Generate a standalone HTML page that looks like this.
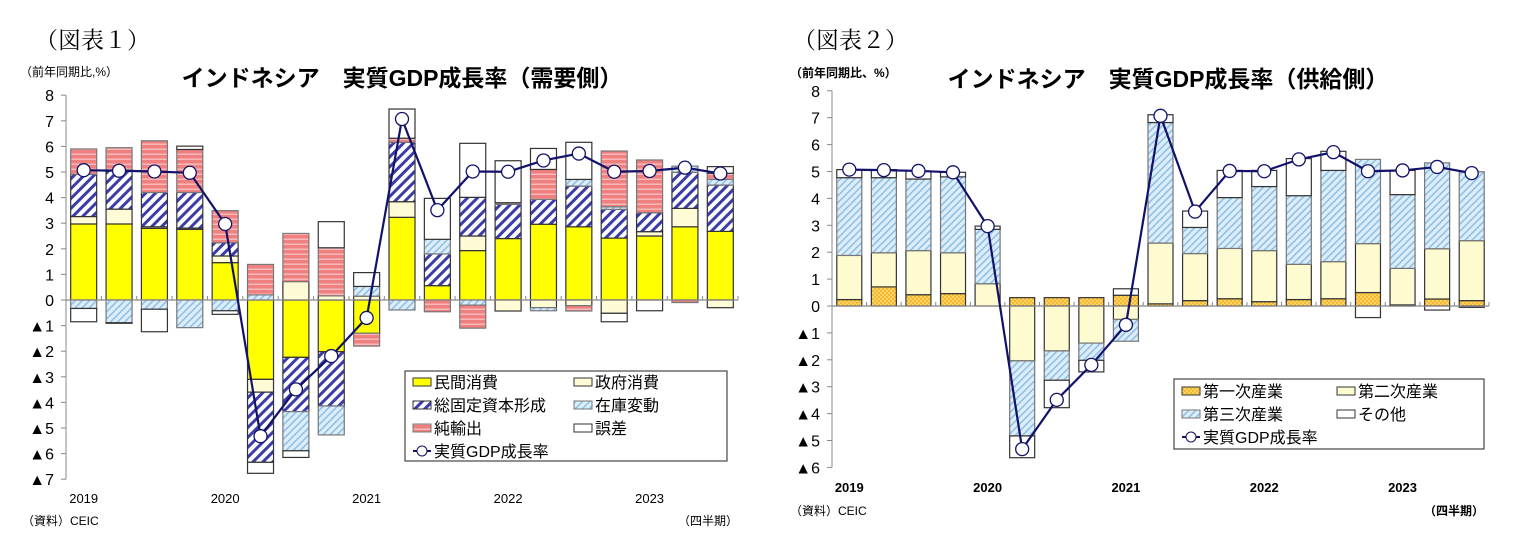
<!DOCTYPE html>
<html><head><meta charset="utf-8">
<style>
html,body{margin:0;padding:0;background:#fff;}
svg{display:block;font-family:"Liberation Sans","Noto Sans CJK JP",sans-serif;}
</style></head>
<body>
<svg id="root" width="1521" height="557" viewBox="0 0 1521 557" xmlns="http://www.w3.org/2000/svg">
<defs>
<pattern id="pGfcf" patternUnits="userSpaceOnUse" width="7" height="7" patternTransform="rotate(45)">
<rect width="7" height="7" fill="#fff"/><rect width="3" height="7" fill="#3c3ca8"/></pattern>
<pattern id="pInv" patternUnits="userSpaceOnUse" width="5" height="5" patternTransform="rotate(45)">
<rect width="5" height="5" fill="#ddeefa"/><rect width="1.6" height="5" fill="#8fc0e6"/></pattern>
<pattern id="pNx" patternUnits="userSpaceOnUse" width="6" height="5">
<rect width="6" height="5" fill="#f08080"/><rect y="3.6" width="6" height="1.2" fill="#f8c8c8"/></pattern>
<pattern id="pPri" patternUnits="userSpaceOnUse" width="4" height="4">
<rect width="4" height="4" fill="#f5b830"/><rect width="2" height="2" fill="#fcd466"/><rect x="2" y="2" width="2" height="2" fill="#fcd466"/></pattern>
</defs>

<text x="35" y="48" font-family="'Liberation Serif','Noto Serif CJK SC',serif" font-size="23">（図表１）</text>
<text x="20" y="76" font-size="12">（前年同期比,%）</text>
<text x="402" y="86" font-size="23" font-weight="bold" text-anchor="middle">インドネシア　実質GDP成長率（需要側）</text>
<text x="22" y="525" font-size="12">（資料）CEIC</text>
<text x="738" y="525" font-size="12" text-anchor="end">（四半期）</text>

<text x="793" y="48" font-family="'Liberation Serif','Noto Serif CJK SC',serif" font-size="23">（図表２）</text>
<text x="790" y="77" font-size="12" font-weight="bold">（前年同期比、%）</text>
<text x="1168" y="87" font-size="23" font-weight="bold" text-anchor="middle">インドネシア　実質GDP成長率（供給側）</text>
<text x="790" y="515" font-size="12">（資料）CEIC</text>
<text x="1484" y="515" font-size="12" font-weight="bold" text-anchor="end">（四半期）</text>

<g id="c1"></g><g id="c2"></g>
</svg>
<script>
const quarters = ["2019Q1","2019Q2","2019Q3","2019Q4","2020Q1","2020Q2","2020Q3","2020Q4","2021Q1","2021Q2","2021Q3","2021Q4","2022Q1","2022Q2","2022Q3","2022Q4","2023Q1","2023Q2","2023Q3"];
const yearLabels = ["2019","2020","2021","2022","2023"];
const gdp = [5.07,5.05,5.02,4.97,2.97,-5.32,-3.49,-2.19,-0.70,7.07,3.51,5.02,5.01,5.45,5.72,5.01,5.04,5.17,4.94];
// chart 1 (demand side)
const privCons = [2.97,2.97,2.80,2.76,1.46,-3.10,-2.24,-2.02,-1.30,3.23,0.56,1.93,2.40,2.96,2.86,2.42,2.50,2.86,2.68];
const govCons  = [0.29,0.58,0.06,0.05,0.26,-0.50,0.72,0.16,0.15,0.61,0.00,0.57,-0.43,-0.30,-0.22,-0.52,0.17,0.72,-0.30];
const gfcf     = [1.65,1.53,1.34,1.39,0.52,-2.74,-2.12,-2.12,0.00,2.32,1.24,1.51,1.34,0.97,1.59,1.12,0.74,1.41,1.81];
const invent   = [-0.33,-0.89,-0.36,-1.08,-0.42,0.20,-1.53,-1.13,0.38,-0.39,0.57,-0.20,0.00,-0.12,0.26,0.10,0.00,0.24,0.22];
const netExp   = [0.99,0.87,2.02,1.68,1.25,1.19,1.88,1.88,-0.50,0.16,-0.46,-0.90,0.06,1.17,-0.21,2.18,2.06,-0.10,0.24];
const discrep  = [-0.52,-0.02,-0.88,0.13,-0.14,-0.43,-0.26,1.02,0.54,1.14,1.60,2.11,1.64,0.82,1.45,-0.33,-0.42,0.00,0.26];
// chart 2 (supply side)
const primary  = [0.24,0.71,0.42,0.46,0.00,0.31,0.31,0.31,0.40,0.08,0.20,0.27,0.16,0.24,0.27,0.50,0.04,0.26,0.20];
const secondary= [1.64,1.27,1.64,1.52,0.83,-2.04,-1.67,-1.38,-0.50,2.26,1.75,1.87,1.90,1.31,1.38,1.82,1.36,1.87,2.23];
const tertiary = [2.89,2.79,2.66,2.82,2.02,-2.79,-1.09,-0.64,-0.81,4.48,0.97,1.89,2.38,2.55,3.39,3.13,2.74,3.19,2.56];
const other    = [0.30,0.30,0.30,0.17,0.12,-0.81,-1.02,-0.43,0.24,0.29,0.61,1.01,0.60,1.38,0.71,-0.43,0.90,-0.15,-0.05];
const ticks1 = [8,7,6,5,4,3,2,1,0,-1,-2,-3,-4,-5,-6,-7];
const ticks2 = [8,7,6,5,4,3,2,1,0,-1,-2,-3,-4,-5,-6];

const NS="http://www.w3.org/2000/svg";
function mk(parent,tag,attrs){const e=document.createElementNS(NS,tag);for(const k in attrs)e.setAttribute(k,attrs[k]);parent.appendChild(e);return e;}
function lab(v){return v<0?"▲"+(-v):String(v);}

function drawChart(g,cfg){
  const n=quarters.length;
  const slot=(cfg.x1-cfg.x0)/n;
  const X=i=>cfg.x0+slot*(i+0.5);
  const Y=v=>cfg.y0-v*cfg.unit;
  let ax=mk(g,"line",{x1:cfg.x0,y1:Y(cfg.ticks[0]),x2:cfg.x0,y2:Y(cfg.ticks[cfg.ticks.length-1]),stroke:"#888","stroke-width":1});
  
  
  cfg.ticks.forEach(t=>{
    mk(g,"line",{x1:cfg.x0-5,y1:Y(t),x2:cfg.x0,y2:Y(t),stroke:"#888"});
    const tx=mk(g,"text",{x:cfg.labX,y:Y(t)+6,"font-size":16,"text-anchor":"end"});
    tx.textContent=lab(t);
    
    
  });
  quarters.forEach((q,i)=>{
    let pos=0,neg=0;
    cfg.series.forEach(s=>{
      const v=s.data[i]; if(!v) return;
      let a,b;
      if(v>0){a=pos;b=pos+v;pos=b;}else{a=neg;b=neg+v;neg=b;}
      const top=Y(Math.max(a,b)),h=Math.abs(Y(a)-Y(b));
      const r=mk(g,"rect",{x:X(i)-cfg.bw/2,y:top,width:cfg.bw,height:h,fill:s.fill,stroke:s.stroke,"stroke-width":1.2});
      
      
    });
  });
  const xa=mk(g,"line",{x1:cfg.x0,y1:Y(0),x2:cfg.x1,y2:Y(0),stroke:"#888","stroke-width":1.2});
  
  
  for(let i=1;i<=n;i++) mk(g,"line",{x1:cfg.x0+slot*i,y1:Y(0)-4,x2:cfg.x0+slot*i,y2:Y(0),stroke:"#888"});
  yearLabels.forEach((yl,k)=>{
    const t=mk(g,"text",{x:X(k*4),y:cfg.yearY,"font-size":13,"text-anchor":"middle","font-weight":cfg.yearBold?"bold":"normal"});
    t.textContent=yl;
    
    
  });
  const pl=mk(g,"polyline",{points:gdp.map((v,i)=>X(i)+","+Y(v)).join(" "),fill:"none",stroke:"#12126a","stroke-width":2.2});
  
  
  gdp.forEach((v,i)=>{
    const c=mk(g,"circle",{cx:X(i),cy:Y(v),r:6.5,fill:"#fff",stroke:"#12126a","stroke-width":1.3});
    
    
  });
  const L=cfg.legend;
  const lb=mk(g,"rect",{x:L.x,y:L.y,width:L.w,height:L.h,fill:"#fff",stroke:"#222","stroke-width":1});
  
  
  cfg.series.forEach((s,k)=>{
    const col=k%2,row=Math.floor(k/2);
    const sx=L.x+8+col*L.colW, sy=L.y+L.r0+row*L.rh;
    mk(g,"rect",{x:sx,y:sy-4,width:18,height:8,fill:s.fill,stroke:s.stroke==="none"?"#888":s.stroke});
    const t=mk(g,"text",{x:sx+21,y:sy+6,"font-size":L.fs});
    t.textContent=s.name;
    
    
  });
  const rows=Math.ceil(cfg.series.length/2);
  const ly=L.y+L.r0+rows*L.rh, lx=L.x+8;
  mk(g,"line",{x1:lx,y1:ly,x2:lx+18,y2:ly,stroke:"#12126a","stroke-width":2});
  mk(g,"circle",{cx:lx+9,cy:ly,r:5,fill:"#fff",stroke:"#12126a"});
  const t=mk(g,"text",{x:lx+21,y:ly+6,"font-size":L.fs});
  t.textContent="実質GDP成長率";
  
  
}

drawChart(document.getElementById("c1"),{
  x0:66,x1:738,y0:300,unit:25.6,bw:26,labX:54,ticks:ticks1,yearY:503,yearBold:false,
  series:[
    {key:"private-consumption",name:"民間消費",data:privCons,fill:"#ffff00",stroke:"#333"},
    {key:"government-consumption",name:"政府消費",data:govCons,fill:"#fffbd6",stroke:"#333"},
    {key:"gfcf",name:"総固定資本形成",data:gfcf,fill:"url(#pGfcf)",stroke:"#333"},
    {key:"inventory",name:"在庫変動",data:invent,fill:"url(#pInv)",stroke:"#777"},
    {key:"net-exports",name:"純輸出",data:netExp,fill:"url(#pNx)",stroke:"#777"},
    {key:"discrepancy",name:"誤差",data:discrep,fill:"#fff",stroke:"#333"}
  ],
  legend:{x:405,y:371,w:322,h:90,colW:161,r0:11,rh:23,fs:16}
});
drawChart(document.getElementById("c2"),{
  x0:832,x1:1489,y0:306,unit:26.9,bw:25,labX:820,ticks:ticks2,yearY:492,yearBold:true,
  series:[
    {key:"primary",name:"第一次産業",data:primary,fill:"url(#pPri)",stroke:"#333"},
    {key:"secondary",name:"第二次産業",data:secondary,fill:"#fffbd0",stroke:"#333"},
    {key:"tertiary",name:"第三次産業",data:tertiary,fill:"url(#pInv)",stroke:"#777"},
    {key:"other",name:"その他",data:other,fill:"#fff",stroke:"#333"}
  ],
  legend:{x:1174,y:379,w:310,h:70,colW:155,r0:12,rh:23,fs:16}
});
</script>
</body></html>
